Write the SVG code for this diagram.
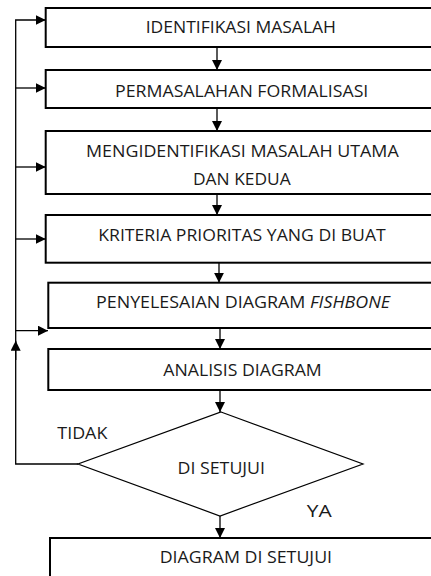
<svg xmlns="http://www.w3.org/2000/svg" width="431" height="576" viewBox="0 0 431 576">
<style>
.box{fill:#fff;stroke:#000;stroke-width:2}
.dia{fill:#fff;stroke:#000;stroke-width:1.2}
.con{fill:none;stroke:#000;stroke-width:1.3}
.t{font-family:"Open Sans","Noto Sans",sans-serif;font-size:15.5px;fill:#1a1a1a}
</style>
<defs>
<marker id="ah" markerUnits="userSpaceOnUse" markerWidth="10" markerHeight="10" refX="10" refY="5" orient="auto">
<path d="M0,0 L10,5 L0,10 z" fill="#000"/>
</marker>
</defs>
<rect width="431" height="576" fill="#fff"/>
<g id="connectors">
<path class="con" d="M217,47 V70" marker-end="url(#ah)"/>
<path class="con" d="M217,108 V131" marker-end="url(#ah)"/>
<path class="con" d="M217,194 V215" marker-end="url(#ah)"/>
<path class="con" d="M219,262.7 V282.7" marker-end="url(#ah)"/>
<path class="con" d="M220,328 V349" marker-end="url(#ah)"/>
<path class="con" d="M220,390 V412" marker-end="url(#ah)"/>
<path class="con" d="M220,516 V538" marker-end="url(#ah)"/>
<path class="con" d="M78,464 H15.7 V20 H45.7" marker-end="url(#ah)"/>
<path class="con" d="M15.7,360 V340.7" marker-end="url(#ah)"/>
<path class="con" d="M15.7,88 H45.7" marker-end="url(#ah)"/>
<path class="con" d="M15.7,167 H45.7" marker-end="url(#ah)"/>
<path class="con" d="M15.7,239 H45.7" marker-end="url(#ah)"/>
<path class="con" d="M15.7,330.7 H48" marker-end="url(#ah)"/>
</g>
<g id="n1">
<rect class="box" x="45.7" y="8" width="400" height="39"/>
<text class="t" transform="translate(145.7,33.4) scale(1.1,1)" textLength="173" lengthAdjust="spacingAndGlyphs">IDENTIFIKASI MASALAH</text>
</g>
<g id="n2">
<rect class="box" x="45.7" y="70" width="400" height="38"/>
<text class="t" transform="translate(115,97.2) scale(1.1,1)" textLength="230.3" lengthAdjust="spacingAndGlyphs">PERMASALAHAN FORMALISASI</text>
</g>
<g id="n3">
<rect class="box" x="45.7" y="131" width="400" height="63"/>
<text class="t" transform="translate(86,156.9) scale(1.1,1)" textLength="284.3" lengthAdjust="spacingAndGlyphs">MENGIDENTIFIKASI MASALAH UTAMA</text>
<text class="t" transform="translate(193,185.2) scale(1.1,1)" textLength="88.8" lengthAdjust="spacingAndGlyphs">DAN KEDUA</text>
</g>
<g id="n4">
<rect class="box" x="45.7" y="215" width="400" height="47.7"/>
<text class="t" transform="translate(98.3,240.6) scale(1.1,1)" textLength="261.3" lengthAdjust="spacingAndGlyphs">KRITERIA PRIORITAS YANG DI BUAT</text>
</g>
<g id="n5">
<rect class="box" x="48.3" y="282.7" width="400" height="45.3"/>
<text class="t" transform="translate(96,308.2) scale(1.1,1)" textLength="267.3" lengthAdjust="spacingAndGlyphs">PENYELESAIAN DIAGRAM <tspan font-style="italic">FISHBONE</tspan></text>
</g>
<g id="n6">
<rect class="box" x="48.3" y="349" width="400" height="41"/>
<text class="t" transform="translate(163.3,376.2) scale(1.1,1)" textLength="144" lengthAdjust="spacingAndGlyphs">ANALISIS DIAGRAM</text>
</g>
<g id="n7">
<polygon class="dia" points="221,412 363,464 220,516 78,464"/>
<text class="t" transform="translate(177.5,474) scale(1.1,1)" textLength="79.6" lengthAdjust="spacingAndGlyphs">DI SETUJUI</text>
</g>
<g id="labels">
<text class="t" transform="translate(57.3,438.6) scale(1.1,1)" textLength="45.5" lengthAdjust="spacingAndGlyphs">TIDAK</text>
<text class="t" transform="translate(306.7,517.2) scale(1.1,1)" textLength="22.7" lengthAdjust="spacingAndGlyphs">YA</text>
</g>
<g id="n8">
<rect class="box" x="50" y="538" width="400" height="60"/>
<text class="t" transform="translate(159.7,563) scale(1.1,1)" textLength="156.7" lengthAdjust="spacingAndGlyphs">DIAGRAM DI SETUJUI</text>
</g>
</svg>
